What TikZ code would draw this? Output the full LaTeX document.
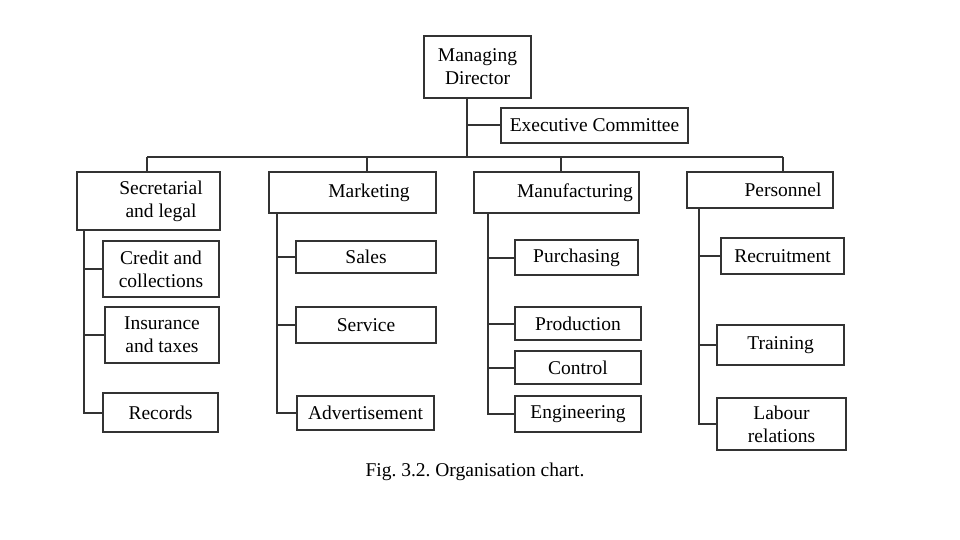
\documentclass[tikz,border=0pt]{standalone}
\usepackage{fontspec}
\setmainfont{Liberation Serif}
\frenchspacing
\begin{document}
\begin{tikzpicture}
  [x=1pt,y=-1pt,line width=2pt,draw=black!80,
   every node/.style={draw=black!80,line width=1.6pt,inner sep=2pt,align=center,
     font=\fontsize{19.5}{23}\selectfont}]
  \useasboundingbox (0,0) rectangle (960,540);

  % top
  \node[minimum width=107,minimum height=62] (md) at (477.5,67) {Managing\\Director};
  \node[minimum width=187,minimum height=35] (exec) at (594.5,125.5) {Executive Committee};

  % departments
  \node[minimum width=143,minimum height=58] (sec) at (148.5,201) {\hspace*{25pt}Secretarial\\\hspace*{25pt}and legal};
  \node[minimum width=167,minimum height=41] (mkt) at (352.5,192.5) {\hspace*{33pt}Marketing};
  \node[minimum width=165,minimum height=41] (mfg) at (556.5,192.5) {\hspace*{37pt}Manufacturing};
  \node[minimum width=146,minimum height=36] (per) at (760,190) {\hspace*{46pt}Personnel};

  % sections
  \node[minimum width=116,minimum height=56] (cred) at (161,269) {Credit and\\collections};
  \node[minimum width=114,minimum height=56] (ins) at (162,335) {Insurance\\and taxes};
  \node[minimum width=115,minimum height=39] (rec) at (160.5,412.5) {Records};

  \node[minimum width=140,minimum height=32] (sales) at (366,257) {Sales};
  \node[minimum width=140,minimum height=36] (serv) at (366,325) {Service};
  \node[minimum width=137,minimum height=34] (adv) at (365.5,413) {Advertisement};

  \node[minimum width=123,minimum height=35] (pur) at (576.5,257.5) {Purchasing};
  \node[minimum width=126,minimum height=33] (prod) at (578,323.5) {Production};
  \node[minimum width=126,minimum height=33] (ctrl) at (578,367.5) {Control};
  \node[minimum width=126,minimum height=36] (eng) at (578,414) {Engineering};

  \node[minimum width=123,minimum height=36] (recr) at (782.5,256) {Recruitment};
  \node[minimum width=127,minimum height=40] (trn) at (780.5,345) {Training};
  \node[minimum width=129,minimum height=52] (lab) at (781.5,424) {Labour\\relations};

  \node[draw=none] (cap) at (475,472) {Fig. 3.2. Organisation chart.};

  % bus
  \coordinate (bus) at (467,157);
  \coordinate (b1) at (147,157);
  \coordinate (b2) at (367,157);
  \coordinate (b3) at (561,157);
  \coordinate (b4) at (783,157);
  \draw (md.south -| bus) -- (bus);
  \draw (bus |- exec.west) -- (exec.west);
  \draw (b1) -- (b4);
  \foreach \from/\to in {b1/sec,b2/mkt,b3/mfg,b4/per}
    \draw (\from) -- (\from |- \to.north);

  \coordinate (sec-t) at ([xshift=8pt]sec.south west);
  \coordinate (mkt-t) at ([xshift=9pt]mkt.south west);
  \coordinate (mfg-t) at ([xshift=15pt]mfg.south west);
  \coordinate (per-t) at ([xshift=13pt]per.south west);
  \foreach \from/\to in {sec-t/cred,sec-t/ins,sec-t/rec,mkt-t/sales,mkt-t/serv,mkt-t/adv,
    mfg-t/pur,mfg-t/prod,mfg-t/ctrl,mfg-t/eng,per-t/recr,per-t/trn,per-t/lab}
    \draw (\from) |- (\to.west);

\end{tikzpicture}
\end{document}
